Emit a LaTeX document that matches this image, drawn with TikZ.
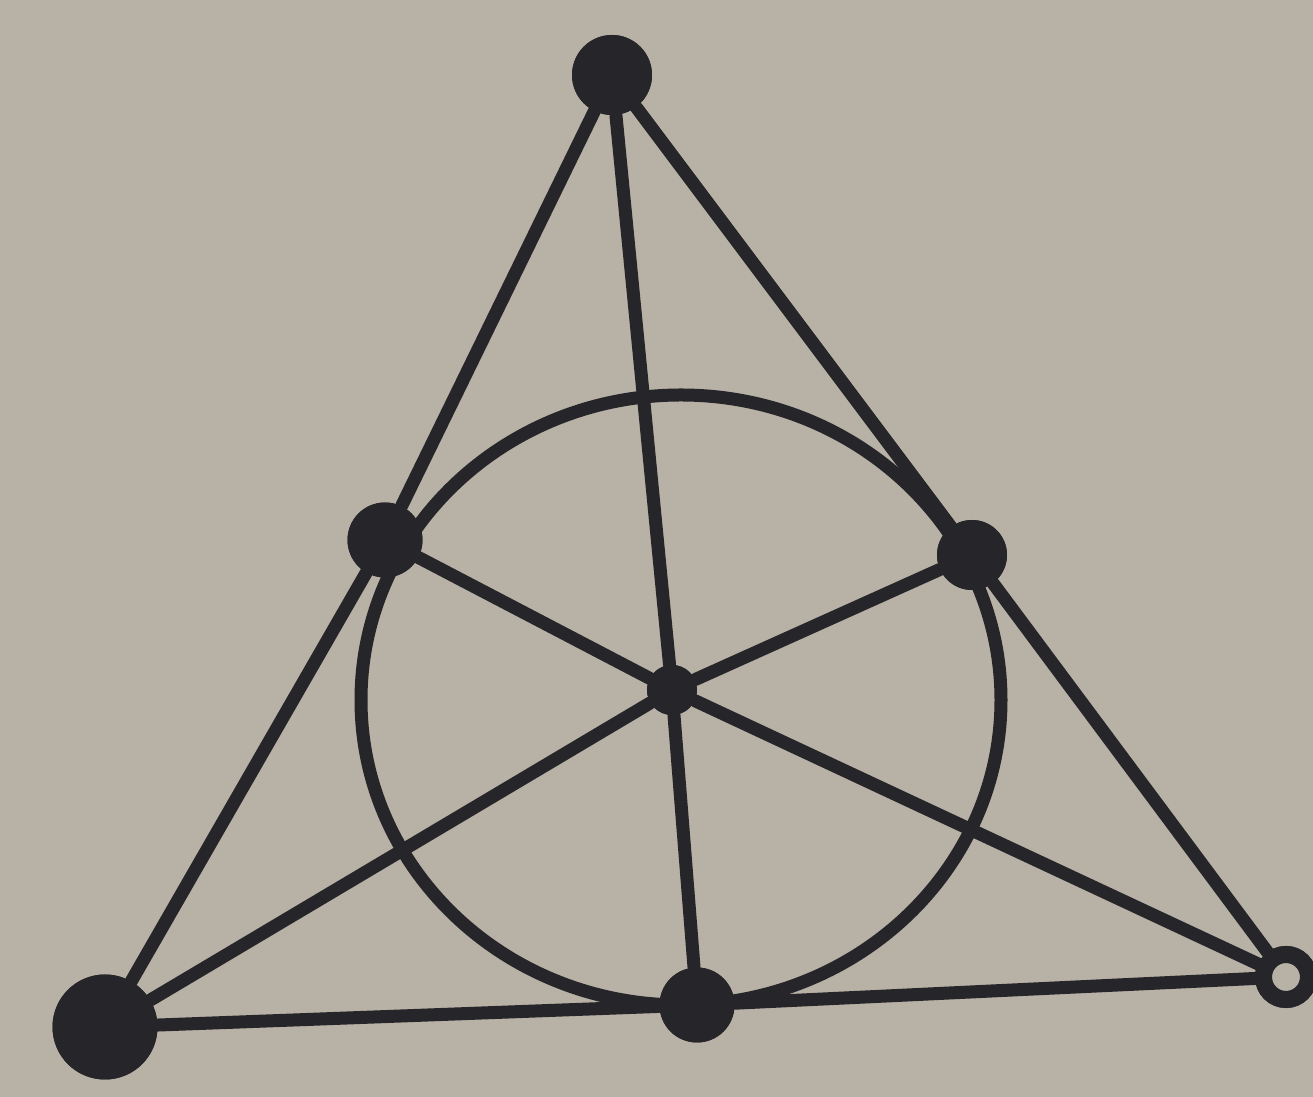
\documentclass[tikz,border=0pt]{standalone}
\usepackage{tikz}
\usetikzlibrary{positioning,calc}
\definecolor{paper}{RGB}{184,177,165}
\definecolor{ink}{RGB}{38,37,42}

\begin{document}
\begin{tikzpicture}[
    line/.style={draw=ink,line width=1.3mm,line cap=round,line join=round},
    dot/.style={circle,fill=ink,inner sep=0pt,minimum size=#1},
    ring/.style={circle,draw=ink,line width=1.7mm,fill=paper,inner sep=0pt,minimum size=#1}]
  % paper
  \fill[paper] (0,0) rectangle (13.13,10.97);
  \useasboundingbox (0,0) rectangle (13.13,10.97);
  % the seven points
  \node[dot=0.8cm]  (T)  at (6.12,10.22) {};
  \node[dot=0.75cm] (L)  at (3.85,5.57) {};
  \node[dot=0.7cm]  (R)  at (9.72,5.42) {};
  \node[dot=0.5cm]  (C)  at (6.72,4.07) {};
  \node[dot=1.05cm] (BL) at (1.05,0.70) {};
  \node[dot=0.75cm] (BM) at (6.97,0.92) {};
  \node[ring=0.45cm] (BR) at (12.86,1.20) {};
  \coordinate (O) at (6.81,3.97);
  % sides
  \draw[line] (T) -- (L) -- (BL);
  \draw[line] (T) -- (R) -- (BR);
  \draw[line] (BL) -- (BM) -- (BR);
  % medians through the centre
  \draw[line] (T) -- (C) -- (BM);
  \draw[line] (L) -- (C) -- (BR);
  \draw[line] (R) -- (C) -- (BL);
  % inner circle
  \draw[line] (O) ellipse [x radius=3.2cm, y radius=3.05cm];
  % redraw points on top
  \node[dot=0.8cm]  at (T) {};
  \node[dot=0.75cm] at (L) {};
  \node[dot=0.7cm]  at (R) {};
  \node[dot=0.5cm]  at (C) {};
  \node[dot=1.05cm] at (BL) {};
  \node[dot=0.75cm] at (BM) {};
  \node[ring=0.45cm] at (BR) {};
\end{tikzpicture}
\end{document}
